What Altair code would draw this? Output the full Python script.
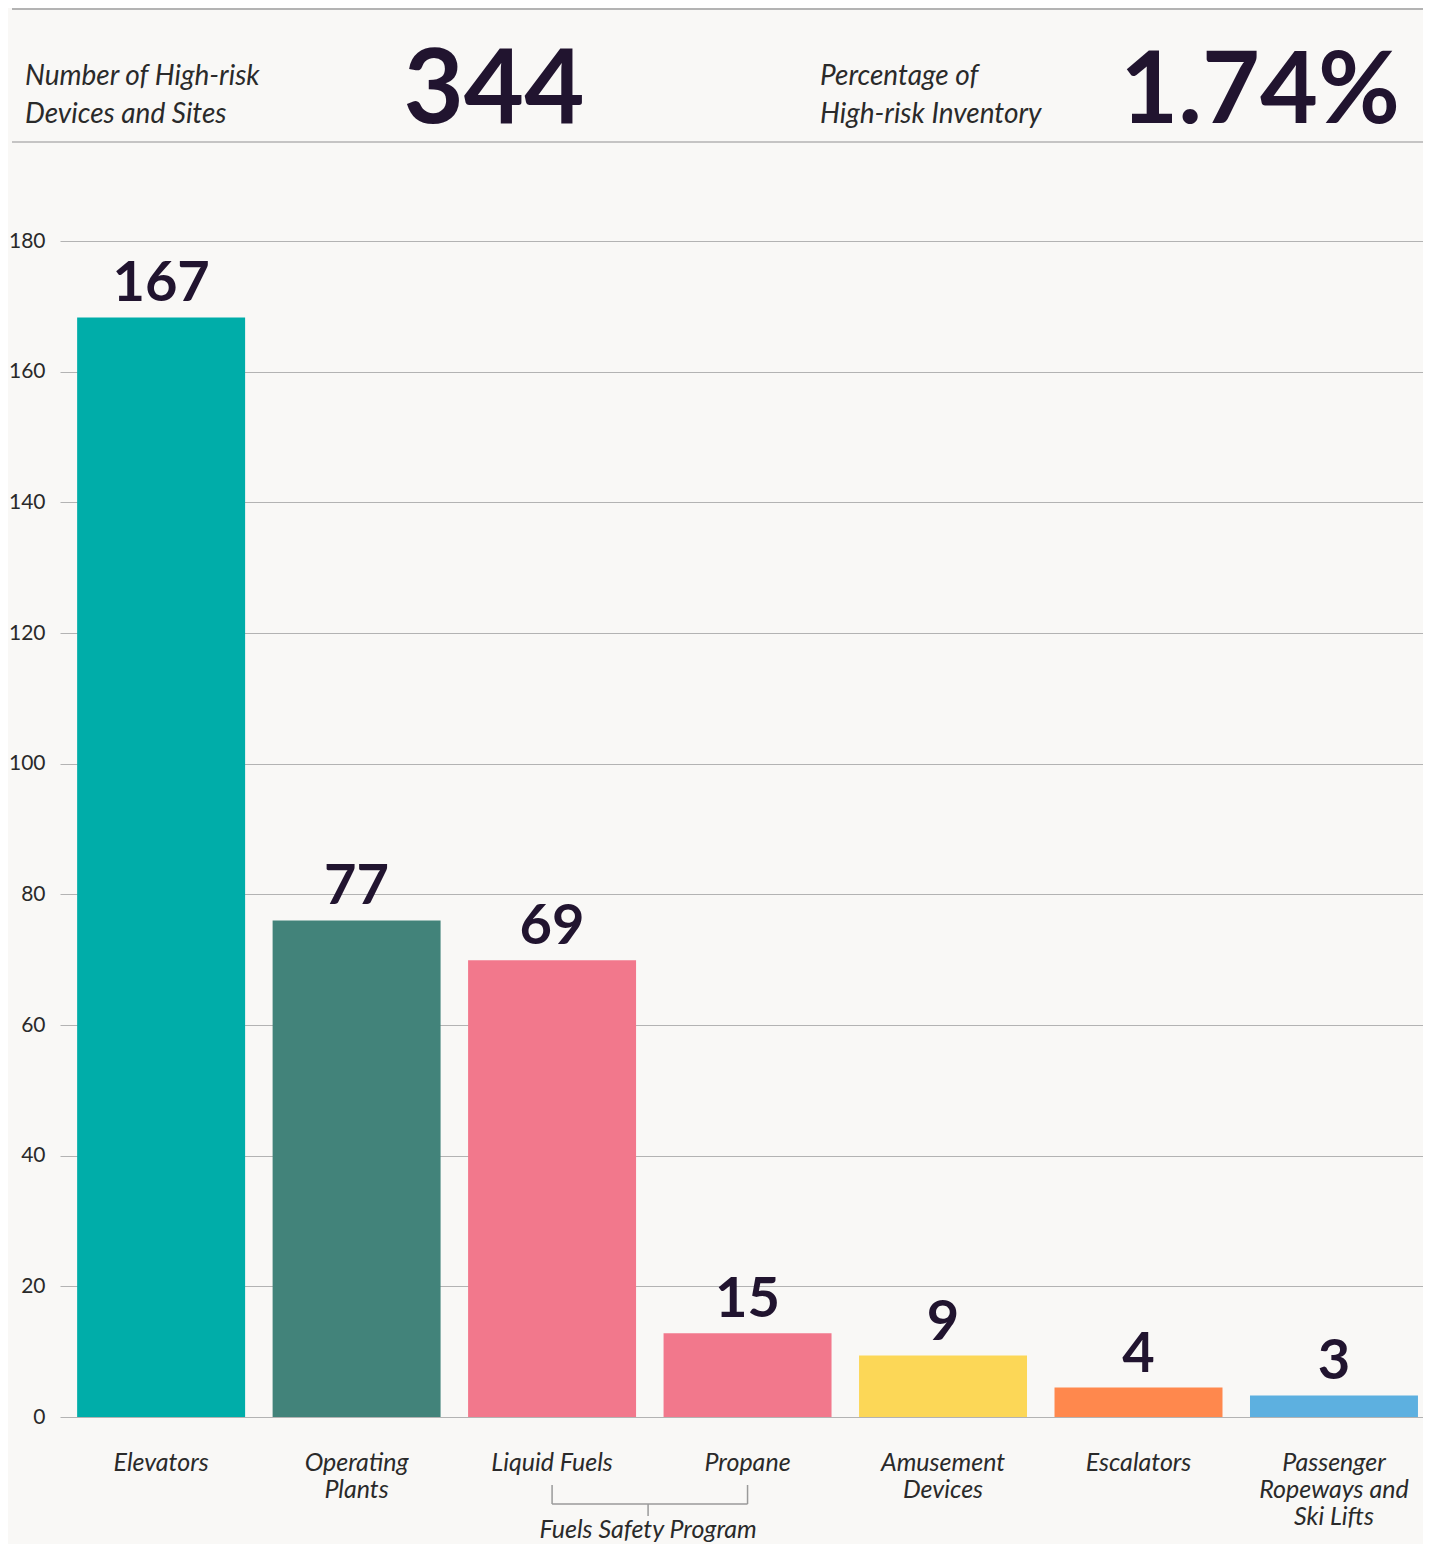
import altair as alt
import pandas as pd

# ---- data ----
categories = ["Elevators", "Operating|Plants", "Liquid Fuels", "Propane",
              "Amusement|Devices", "Escalators", "Passenger|Ropeways and|Ski Lifts"]
bar_values = [168.3, 76.0, 69.9, 12.8, 9.4, 4.5, 3.3]
value_labels = ["167", "77", "69", "15", "9", "4", "3"]
bar_colors = ["#00ADA9", "#42837A", "#F2788C", "#F2788C", "#FCD757", "#FF884D", "#5DB0E0"]
y_ticks = [0, 20, 40, 60, 80, 100, 120, 140, 160, 180]

kpi_labels = ["Number of High-risk\nDevices and Sites", "Percentage of\nHigh-risk Inventory"]
kpi_values = ["344", "1.74%"]

group_members = ["Liquid Fuels", "Propane"]
group_label = "Fuels Safety Program"

FONT = "Lato"
DARK = "#21142F"
TEXT = "#2a2a2a"
LINE = "#b3b3b3"
W, H = 1363, 1176
TOP, BOTTOM, LEFT, RIGHT = 233, 127, 52, 0

df = pd.DataFrame({"cat": categories, "value": bar_values, "label": value_labels})

xscale = alt.Scale(domain=categories, paddingInner=0.1407, paddingOuter=0.0567, align=0.773)
yscale = alt.Scale(domain=[0, 180], nice=False)

base = alt.Chart(df)

bars = base.mark_bar().encode(
    x=alt.X("cat:N", scale=xscale, sort=categories, title=None,
            axis=alt.Axis(labelAngle=0, ticks=False, domain=False,
                          labelExpr="split(datum.label, '|')",
                          labelFont=FONT, labelFontSize=25, labelFontStyle="italic",
                          labelColor=TEXT, labelBaseline="alphabetic",
                          labelPadding=53, labelLineHeight=27, labelLimit=400)),
    y=alt.Y("value:Q", scale=yscale, title=None,
            axis=alt.Axis(values=y_ticks, ticks=False, domain=False, grid=True,
                          gridColor=LINE, gridWidth=1.2,
                          labelFont=FONT, labelFontSize=21, labelColor=TEXT,
                          labelPadding=15)),
    color=alt.Color("cat:N", scale=alt.Scale(domain=categories, range=bar_colors), legend=None),
)

labels = base.mark_text(font=FONT, fontSize=56, fontWeight="bold", color=DARK,
                        baseline="alphabetic", align="center", dy=-16).encode(
    x=alt.X("cat:N", scale=xscale, sort=categories),
    y=alt.Y("value:Q", scale=yscale),
    text="label:N",
)

# ---- Fuels bracket ----
GC = "#9a9a9a"
gdf = pd.DataFrame({"cat": group_members})
gbase = alt.Chart(gdf)
g_vert = gbase.mark_rule(color=GC, strokeWidth=1.5).encode(
    x=alt.X("cat:N", scale=xscale, sort=categories),
    y=alt.value(1244), y2=alt.value(1263),
)
g_horiz = gbase.mark_line(color=GC, strokeWidth=1.5).encode(
    x=alt.X("cat:N", scale=xscale, sort=categories),
    y=alt.value(1263),
)
tdf = pd.DataFrame({"cat": [group_members[0]], "t": [group_label]})
g_tick = alt.Chart(tdf).mark_rule(color=GC, strokeWidth=1.5, xOffset=96).encode(
    x=alt.X("cat:N", scale=xscale, sort=categories),
    y=alt.value(1263), y2=alt.value(1275),
)
g_text = alt.Chart(tdf).mark_text(font=FONT, fontSize=25, fontStyle="italic", color=TEXT,
                                  align="center", baseline="alphabetic", dx=96).encode(
    x=alt.X("cat:N", scale=xscale, sort=categories),
    y=alt.value(1297),
    text="t:N",
)

# ---- header ----
one = pd.DataFrame({"k": [0]})
hdr_top = alt.Chart(one).mark_rule(color=LINE, strokeWidth=2).encode(
    x=alt.value(-48), x2=alt.value(W), y=alt.value(-TOP + 1))
hdr_bot = alt.Chart(one).mark_rule(color=LINE, strokeWidth=1.5).encode(
    x=alt.value(-48), x2=alt.value(W), y=alt.value(-99))

def kpi_label(txt, x):
    return alt.Chart(pd.DataFrame({"t": [txt]})).mark_text(
        font=FONT, fontSize=28, fontStyle="italic", color=TEXT, align="left",
        baseline="alphabetic", lineBreak="\n", lineHeight=38).encode(
        x=alt.value(x), y=alt.value(-156), text="t:N")

def kpi_value(txt, x, align, size):
    return alt.Chart(pd.DataFrame({"t": [txt]})).mark_text(
        font=FONT, fontSize=size, fontWeight="bold", color=DARK, align=align,
        baseline="alphabetic").encode(
        x=alt.value(x), y=alt.value(-118), text="t:N")

header = [hdr_top, hdr_bot,
          kpi_label(kpi_labels[0], -35), kpi_value(kpi_values[0], 434, "center", 104),
          kpi_label(kpi_labels[1], 760), kpi_value(kpi_values[1], 1340, "right", 100)]

chart = alt.layer(bars, labels, g_vert, g_horiz, g_tick, g_text, *header).properties(
    width=W, height=H,
    autosize=alt.AutoSizeParams(type="none"),
    padding={"left": LEFT, "top": TOP, "right": RIGHT, "bottom": BOTTOM},
    background="#F9F8F6",
).configure_view(stroke=None)

chart.save("out.html", embed_options={"renderer": "svg", "actions": False})
